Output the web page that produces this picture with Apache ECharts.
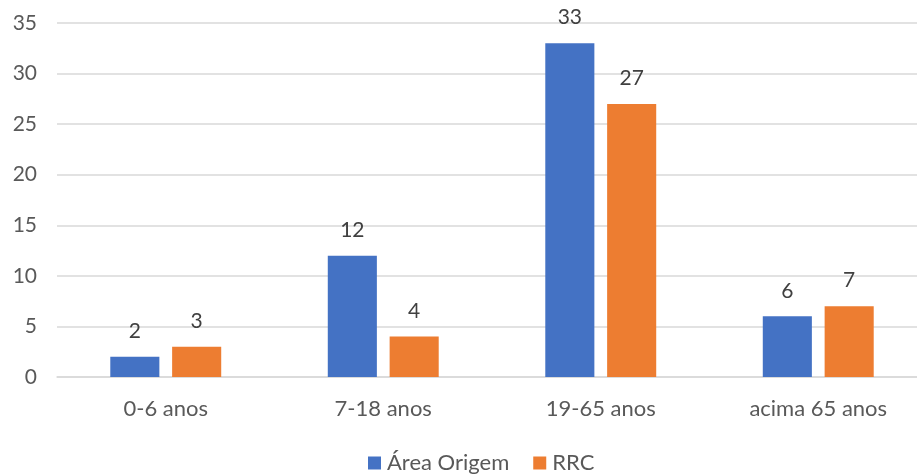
<!DOCTYPE html>
<html>
<head>
<meta charset="utf-8">
<script src="https://cdn.jsdelivr.net/npm/echarts@6/dist/echarts.min.js"></script>
<style>
  html, body { margin: 0; padding: 0; background: #fff; }
  #chart { width: 917px; height: 475px; }
</style>
</head>
<body>
<div id="chart"></div>
<script>
// Age groups and counts per origin
const categories = ['0-6 anos', '7-18 anos', '19-65 anos', 'acima 65 anos'];
const areaOrigem = [2, 12, 33, 6];
const rrc = [3, 4, 27, 7];
const yTicks = { min: 0, max: 35, interval: 5 };

const FONT = 'Lato, "Open Sans", sans-serif';
const labelStyle = {
  show: true,
  position: 'top',
  distance: 15,
  color: '#404040',
  fontFamily: FONT,
  fontSize: 21
};

const chart = echarts.init(document.getElementById('chart'));
chart.setOption({
  animation: false,
  textStyle: { fontFamily: FONT },
  // plot area runs slightly past the right edge of the canvas
  grid: { left: 57, width: 870, top: 23, bottom: 98, containLabel: false, outerBoundsMode: 'none' },
  legend: {
    data: ['Área Origem', 'RRC'],
    left: 368,
    top: 452,
    padding: 0,
    itemWidth: 13,
    itemHeight: 13,
    itemGap: 24,
    icon: 'rect',
    textStyle: { color: '#595959', fontSize: 22, fontFamily: FONT, padding: [0, 0, 0, 1] }
  },
  xAxis: {
    type: 'category',
    data: categories,
    axisLine: { lineStyle: { color: '#d9d9d9', width: 1.5 } },
    axisTick: { show: false },
    axisLabel: { color: '#595959', fontSize: 22, fontFamily: FONT, margin: 21 }
  },
  yAxis: {
    type: 'value',
    min: yTicks.min,
    max: yTicks.max,
    interval: yTicks.interval,
    axisLine: { show: false },
    axisTick: { show: false },
    splitLine: { lineStyle: { color: '#d9d9d9', width: 1.5 } },
    axisLabel: { color: '#595959', fontSize: 21, fontFamily: FONT, margin: 20 }
  },
  series: [
    {
      name: 'Área Origem',
      type: 'bar',
      data: areaOrigem,
      itemStyle: { color: '#4472c4' },
      barGap: '26%',
      barCategoryGap: '49%',
      label: labelStyle
    },
    {
      name: 'RRC',
      type: 'bar',
      data: rrc,
      itemStyle: { color: '#ed7d31' },
      label: labelStyle
    }
  ]
});
</script>
</body>
</html>
